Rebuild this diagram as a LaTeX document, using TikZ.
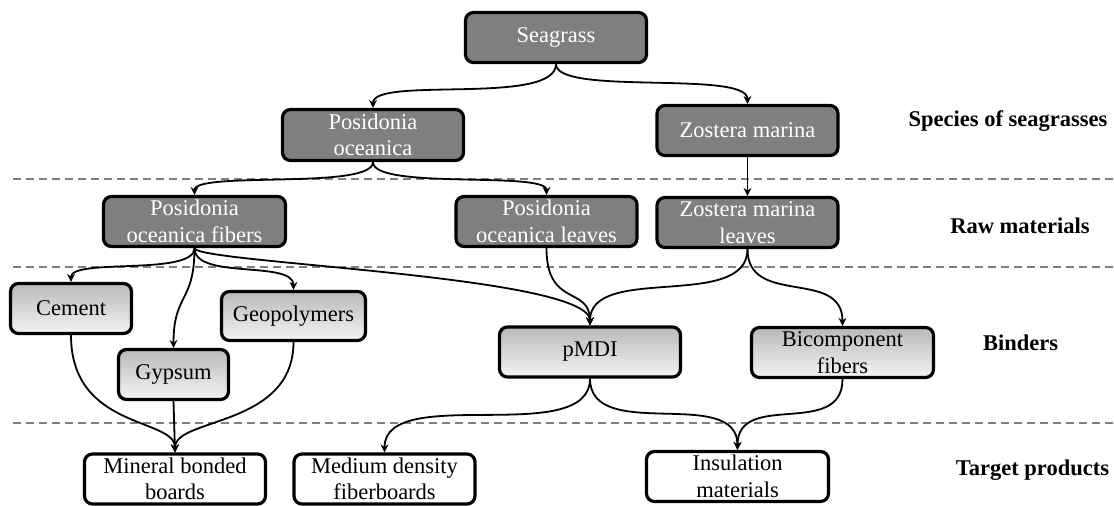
\documentclass[tikz,border=0pt]{standalone}
\usepackage{fontspec}
\setmainfont{Liberation Serif}
\usetikzlibrary{arrows.meta}
\definecolor{darkbox}{RGB}{127,127,127}
\definecolor{sepgray}{RGB}{128,128,128}
\begin{document}
\begin{tikzpicture}[x=1pt,y=-1pt,
  box/.style={draw=black, line width=3.2pt, rounded corners=8pt, align=center,
    inner sep=0pt, minimum width=181pt, minimum height=50pt,
    font=\fontsize{22.5}{26.5}\selectfont},
  dark/.style={box, fill=darkbox, text=white},
  binder/.style={box, top color=gray!55, bottom color=gray!8},
  prod/.style={box, fill=white},
  arr/.style={line width=1.8pt, -{Stealth[length=8pt,width=8pt]}},
  sep/.style={sepgray, line width=1.8pt, dash pattern=on 8pt off 5pt},
  lab/.style={font=\bfseries\fontsize{22.5}{26.5}\selectfont, anchor=base}
]
\useasboundingbox (0,0) rectangle (1114,506);

% separators
\draw[sep] (13,179) -- (1114,179);
\draw[sep] (13,267) -- (1114,267);
\draw[sep] (13,423) -- (1114,423);

% nodes
\node[dark] (sea) at (556,37.5) {Seagrass};
\node[dark, minimum height=51pt] (po) at (373,135) {Posidonia\\oceanica};
\node[dark] (zm) at (747.5,130.5) {Zostera marina};
\node[dark, minimum width=182pt] (pof) at (194.5,221.5) {Posidonia\\oceanica fibers};
\node[dark] (pol) at (546.5,221.5) {Posidonia\\oceanica leaves};
\node[dark] (zml) at (747.5,222.5) {Zostera marina\\leaves};

\node[binder, minimum width=121pt] (cem) at (71,308.5) {Cement};
\node[binder, minimum width=144pt, minimum height=49pt] (geo) at (293.5,316) {Geopolymers};
\node[binder, minimum width=110pt] (gyp) at (173.5,374.5) {Gypsum};
\node[binder] (pmdi) at (590,352) {pMDI};
\node[binder, minimum width=182pt] (bic) at (842.5,352.5) {Bicomponent\\fibers};

\node[prod] (mbb) at (175,479) {Mineral bonded\\boards};
\node[prod] (mdf) at (384.5,479) {Medium density\\fiberboards};
\node[prod, minimum width=182pt] (ins) at (737.5,476.5) {Insulation\\materials};

% right labels
\node[lab] (l1) at (1008,126) {Species of seagrasses};
\node[lab] (l2) at (1020,233) {Raw materials};
\node[lab] (l3) at (1020.5,350) {Binders};
\node[lab] (l4) at (1032.5,475) {Target products};

% connectors
\draw[arr] (sea.south) .. controls +(0,42) and +(0,-32) .. (po.north);
\draw[arr] (sea.south) .. controls +(0,32) and +(0,-34) .. (zm.north);
\draw[arr] (po.south) .. controls +(0,28) and +(0,-24) .. (pof.north);
\draw[arr] (po.south) .. controls +(0,28) and +(0,-24) .. (pol.north);
\draw[arr] (zm.south) -- (zml.north);

\draw[arr] (pof.south) .. controls +(0,28) and +(0,-24) .. (cem.north);
\draw[arr] (pof.south) .. controls +(0,55) and +(0,-55) .. (gyp.north);
\draw[arr] (pof.south) .. controls +(0,32) and +(0,-30) .. (geo.north);
\draw[arr] (pof.south) .. controls +(0,15) and +(0,-50) .. (pmdi.north);
\draw[arr] (pol.south) .. controls +(0,60) and +(0,-40) .. (pmdi.north);
\draw[arr] (zml.south) .. controls +(0,62) and +(0,-62) .. (pmdi.north);
\draw[arr] (zml.south) .. controls +(0,58) and +(0,-58) .. (bic.north);

\draw[arr] (cem.south) .. controls +(0,95) and +(0,-35) .. (mbb.north);
\draw[arr] (gyp.south) -- (mbb.north);
\draw[arr] (geo.south) .. controls +(0,85) and +(0,-35) .. (mbb.north);
\draw[arr] (pmdi.south) .. controls +(0,70) and +(0,-70) .. (mdf.north);
\draw[arr] (pmdi.south) .. controls +(0,65) and +(0,-65) .. (ins.north);
\draw[arr] (bic.south) .. controls +(0,60) and +(0,-60) .. (ins.north);
\end{tikzpicture}
\end{document}
